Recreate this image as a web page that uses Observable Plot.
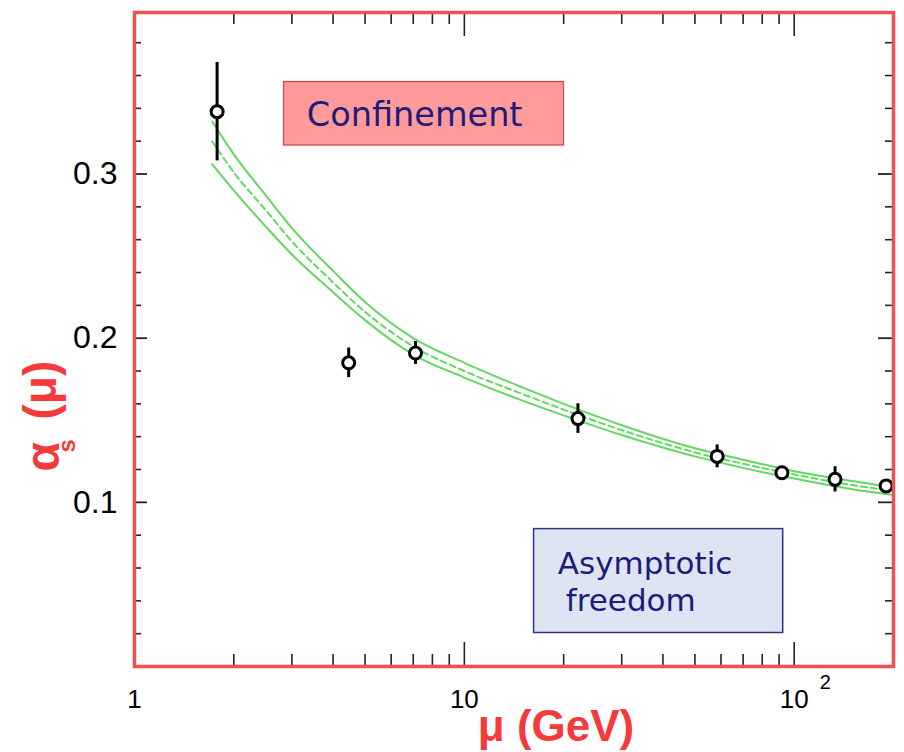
<!DOCTYPE html>
<html>
<head>
<meta charset="utf-8">
<script src="https://cdn.jsdelivr.net/npm/d3@7"></script>
<script src="https://cdn.jsdelivr.net/npm/@observablehq/plot@0.6"></script>
<style>
  html, body { margin: 0; padding: 0; background: white; }
  #chart { width: 904px; height: 752px; }
</style>
</head>
<body>
<div id="chart"></div>
<script>
// ---- Theory band ----
const muGrid   = [1.72, 2, 2.5, 3, 4, 5, 7, 10, 15, 20, 30, 50, 70, 100, 150, 200];
const upperBand = [0.332, 0.312, 0.287, 0.267, 0.241, 0.222, 0.200, 0.185, 0.170, 0.160, 0.147, 0.133, 0.126, 0.119, 0.113, 0.109];
const centralLine = [0.320, 0.301, 0.278, 0.259, 0.234, 0.216, 0.195, 0.180, 0.166, 0.1565, 0.144, 0.1305, 0.1235, 0.117, 0.1105, 0.107];
const lowerBand = [0.306, 0.290, 0.268, 0.251, 0.228, 0.211, 0.190, 0.176, 0.162, 0.153, 0.141, 0.128, 0.121, 0.1145, 0.108, 0.1045];

// ---- Measurements ----
const dataMu    = [1.78, 4.46, 7.11, 22.1, 58.4, 91.8, 133, 190];
const dataAlpha = [0.338, 0.185, 0.191, 0.151, 0.128, 0.118, 0.114, 0.110];
const dataErr   = [0.030, 0.009, 0.007, 0.009, 0.007, 0.001, 0.0077, 0.001];

// ---- Ticks ----
const yMajor = [0.1, 0.2, 0.3];
const yMajorLabels = ["0.1", "0.2", "0.3"];
const yMinor = [0.02, 0.04, 0.06, 0.08, 0.12, 0.14, 0.16, 0.18, 0.22, 0.24, 0.26, 0.28, 0.32, 0.34, 0.36, 0.38];
const xMajor = [1, 10, 100];
const xMajorLabels = ["1", "10", "10"];
const xExpTick = [100];
const xExpLabel = ["2"];
const xMinor = [2, 3, 4, 5, 6, 7, 8, 9, 20, 30, 40, 50, 60, 70, 80, 90, 200];

// ---- Annotation boxes (data coordinates: mu1, mu2, alpha1, alpha2) ----
const confinementBox = [2.84, 20.05, 0.3174, 0.356];
const confinementText = [{mu: 3.33, alpha: 0.336, label: "Confinement"}];
const freedomBox = [16.27, 92.6, 0.0204, 0.0837];
const freedomText = [
  {mu: 19.2, alpha: 0.0625, label: "Asymptotic"},
  {mu: 20.3, alpha: 0.0398, label: "freedom"}
];

const xTitle = ["μ (GeV)"];
const yTitleMain = ["α"];
const yTitleSub = ["s"];
const yTitleArg = ["(μ)"];

// Build tables
const band = muGrid.map((m, i) => ({mu: m, up: upperBand[i], mid: centralLine[i], lo: lowerBand[i]}));
const points = dataMu.map((m, i) => ({mu: m, a: dataAlpha[i], e: dataErr[i]}));

const W = 904, H = 752;
const mL = 134, mR = 11, mT = 12, mB = 86;
const innerW = W - mL - mR, innerH = H - mT - mB;
const tickColor = "#222";
const green = "#62d862";
const red = "#f43a3a";
const boxFont = "'DejaVu Sans', Verdana, sans-serif";

const chart = Plot.plot({
  width: W, height: H,
  marginLeft: mL, marginRight: mR, marginTop: mT, marginBottom: mB,
  x: {type: "log", domain: [1, 200]},
  y: {domain: [0, 0.3984]},
  style: {fontFamily: "'Liberation Sans', Arial, sans-serif", background: "white", color: "black"},
  marks: [
    // annotation boxes
    Plot.rect([confinementBox], {x1: d => d[0], x2: d => d[1], y1: d => d[2], y2: d => d[3], fill: "#ff9a9a", stroke: "#d94848", strokeWidth: 1.3}),
    Plot.rect([freedomBox], {x1: d => d[0], x2: d => d[1], y1: d => d[2], y2: d => d[3], fill: "#dce5f1", stroke: "#2f3480", strokeWidth: 1.5}),
    Plot.text(confinementText, {x: "mu", y: "alpha", text: "label", textAnchor: "start", lineAnchor: "middle", fontSize: 33.5, fill: "#1d1b7c", fontFamily: boxFont}),
    Plot.text(freedomText, {x: "mu", y: "alpha", text: "label", textAnchor: "start", lineAnchor: "middle", fontSize: 31, fill: "#1d1b7c", fontFamily: boxFont}),

    // theory band
    Plot.line(band, {x: "mu", y: "up", stroke: green, strokeWidth: 2, curve: "monotone-x"}),
    Plot.line(band, {x: "mu", y: "lo", stroke: green, strokeWidth: 2, curve: "monotone-x"}),
    Plot.line(band, {x: "mu", y: "mid", stroke: green, strokeWidth: 2, strokeDasharray: "6,4", curve: "monotone-x"}),

    // measurements
    Plot.ruleX(points, {x: "mu", y1: d => d.a - d.e, y2: d => d.a + d.e, stroke: "black", strokeWidth: 3}),
    Plot.dot(points, {x: "mu", y: "a", r: 6, fill: "white", stroke: "black", strokeWidth: 3}),

    // ticks: y left / right
    Plot.tickY(yMinor, {y: d => d, insetRight: innerW - 7, stroke: tickColor, strokeWidth: 1.6}),
    Plot.tickY(yMajor, {y: d => d, insetRight: innerW - 13, stroke: tickColor, strokeWidth: 1.8}),
    Plot.tickY(yMinor, {y: d => d, insetLeft: innerW - 8, stroke: tickColor, strokeWidth: 1.6}),
    Plot.tickY(yMajor, {y: d => d, insetLeft: innerW - 15, stroke: tickColor, strokeWidth: 1.8}),
    // ticks: x bottom / top
    Plot.tickX(xMinor, {x: d => d, insetTop: innerH - 12, stroke: tickColor, strokeWidth: 1.6}),
    Plot.tickX(xMajor, {x: d => d, insetTop: innerH - 24, stroke: tickColor, strokeWidth: 1.6}),
    Plot.tickX(xMinor, {x: d => d, insetBottom: innerH - 12, stroke: tickColor, strokeWidth: 1.6}),
    Plot.tickX(xMajor, {x: d => d, insetBottom: innerH - 24, stroke: tickColor, strokeWidth: 1.6}),

    Plot.frame({stroke: "#f05050", strokeWidth: 3.5}),

    // axes labels
    Plot.axisY(yMajor, {tickSize: 0, tickPadding: 17, fontSize: 32, tickFormat: d => yMajorLabels[yMajor.indexOf(d)], label: null}),
    Plot.axisX(xMajor, {tickSize: 0, tickPadding: 23, fontSize: 26, tickFormat: d => xMajorLabels[xMajor.indexOf(d)], label: null}),
    Plot.text(xExpTick, {x: d => d, frameAnchor: "bottom", text: (d, i) => xExpLabel[i], dx: 31, dy: 16, fontSize: 20, lineAnchor: "middle"}),

    // axis titles
    Plot.text(xTitle, {frameAnchor: "bottom", text: d => d, dx: 42, dy: 74, lineAnchor: "bottom", fontSize: 44, fontWeight: "bold", fill: red}),
    Plot.text(yTitleMain, {frameAnchor: "left", text: d => d, rotate: -90, dx: -91, dy: 132, lineAnchor: "middle", fontSize: 48, fontWeight: "bold", fill: red}),
    Plot.text(yTitleSub, {frameAnchor: "left", text: d => d, rotate: -90, dx: -67, dy: 113, lineAnchor: "middle", fontSize: 24, fontWeight: "bold", fill: red}),
    Plot.text(yTitleArg, {frameAnchor: "left", text: d => d, rotate: -90, dx: -93, dy: 80, lineAnchor: "middle", fontSize: 46, fontWeight: "bold", fill: red})
  ]
});
document.getElementById("chart").appendChild(chart);
</script>
</body>
</html>
